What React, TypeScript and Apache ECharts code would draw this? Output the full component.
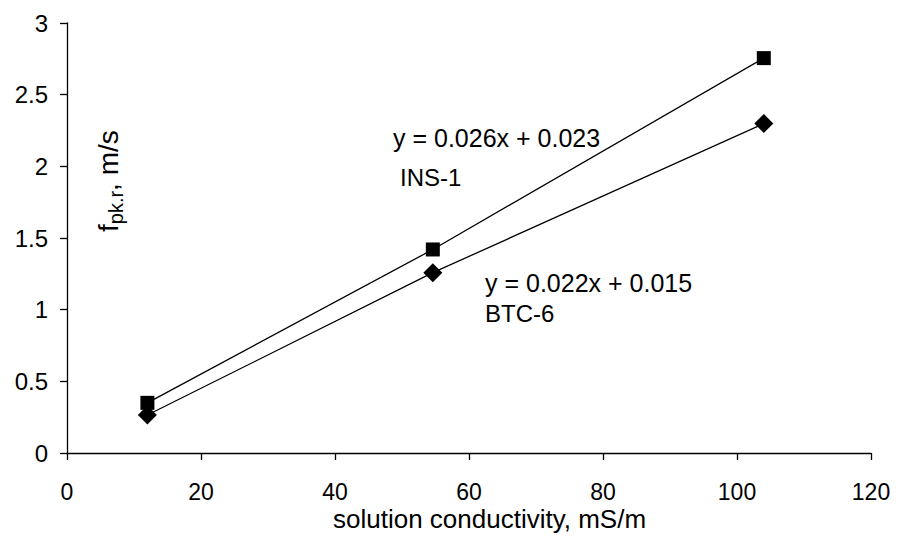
import React, { useEffect, useRef } from "react";
import * as echarts from "echarts";

const insX = [12, 54.6, 104];
const insY = [0.35, 1.42, 2.755];
const btcX = [12, 54.6, 104];
const btcY = [0.265, 1.258, 2.298];
const xTicks = { min: 0, max: 120, interval: 20 };
const yTicks = { min: 0, max: 3, interval: 0.5 };
const insEq = "y = 0.026x + 0.023";
const insName = "INS-1";
const btcEq = "y = 0.022x + 0.015";
const btcName = "BTC-6";
const xTitle = "solution conductivity, mS/m";
const yTitleMain = "f";
const yTitleSub = "pk.r";
const yTitleRest = ", m/s";

const FONT = "'Liberation Sans', Arial, sans-serif";

export default function App() {
  const ref = useRef<HTMLDivElement>(null);
  useEffect(() => {
    if (!ref.current) return;
    const chart = echarts.init(ref.current, undefined, { renderer: "svg" });
    const pair = (xs: number[], ys: number[]) => xs.map((x, i) => [x, ys[i]]);
    const axisLine = { show: true, lineStyle: { color: "#000", width: 1.3 } };
    const txt = (text: string, x: number, y: number, size: number, lh?: number) => ({
      type: "text",
      x,
      y,
      style: {
        text,
        fill: "#000",
        fontFamily: FONT,
        fontSize: size,
        lineHeight: lh ?? size,
        align: "left",
        verticalAlign: "middle",
      },
    });
    chart.setOption({
      animation: false,
      backgroundColor: "#fff",
      grid: { left: 67, right: 28, top: 23, bottom: 87, containLabel: false },
      xAxis: {
        type: "value",
        min: xTicks.min,
        max: xTicks.max,
        interval: xTicks.interval,
        axisLine,
        axisTick: { show: true, inside: false, length: 7, lineStyle: { color: "#000", width: 1.3 } },
        axisLabel: { color: "#000", fontSize: 23, lineHeight: 18, fontFamily: FONT, margin: 30 },
        splitLine: { show: false },
      },
      yAxis: {
        type: "value",
        min: yTicks.min,
        max: yTicks.max,
        interval: yTicks.interval,
        axisLine,
        axisTick: { show: true, inside: false, length: 7, lineStyle: { color: "#000", width: 1.3 } },
        axisLabel: { color: "#000", fontSize: 24, fontFamily: FONT, margin: 19 },
        splitLine: { show: false },
      },
      series: [
        {
          name: insName,
          type: "line",
          data: pair(insX, insY),
          symbol: "rect",
          symbolSize: 14,
          showAllSymbol: true,
          lineStyle: { color: "#000", width: 1.3 },
          itemStyle: { color: "#000" },
          z: 3,
        },
        {
          name: btcName,
          type: "line",
          data: pair(btcX, btcY),
          symbol: "diamond",
          symbolSize: 19,
          showAllSymbol: true,
          lineStyle: { color: "#000", width: 1.3 },
          itemStyle: { color: "#000" },
          z: 3,
        },
      ],
      graphic: [
        txt(insEq, 393, 138, 25),
        txt(insName, 400, 177.5, 24),
        txt(btcEq, 485, 282.5, 25),
        txt(btcName, 485, 313.5, 24),
        txt(xTitle, 333, 518.5, 26, 20),
        {
          type: "group",
          x: 108.3,
          y: 232,
          rotation: Math.PI / 2,
          children: [
            txt(yTitleMain, 0, 0, 28),
            txt(yTitleSub, 7.8, 7.3, 20),
            txt(yTitleRest, 41.1, 0, 28),
          ],
        },
      ],
    });
    return () => chart.dispose();
  }, []);
  return (
    <div
      ref={ref}
      style={{ position: "fixed", left: 0, top: 0, width: 899, height: 540, background: "#fff" }}
    />
  );
}
